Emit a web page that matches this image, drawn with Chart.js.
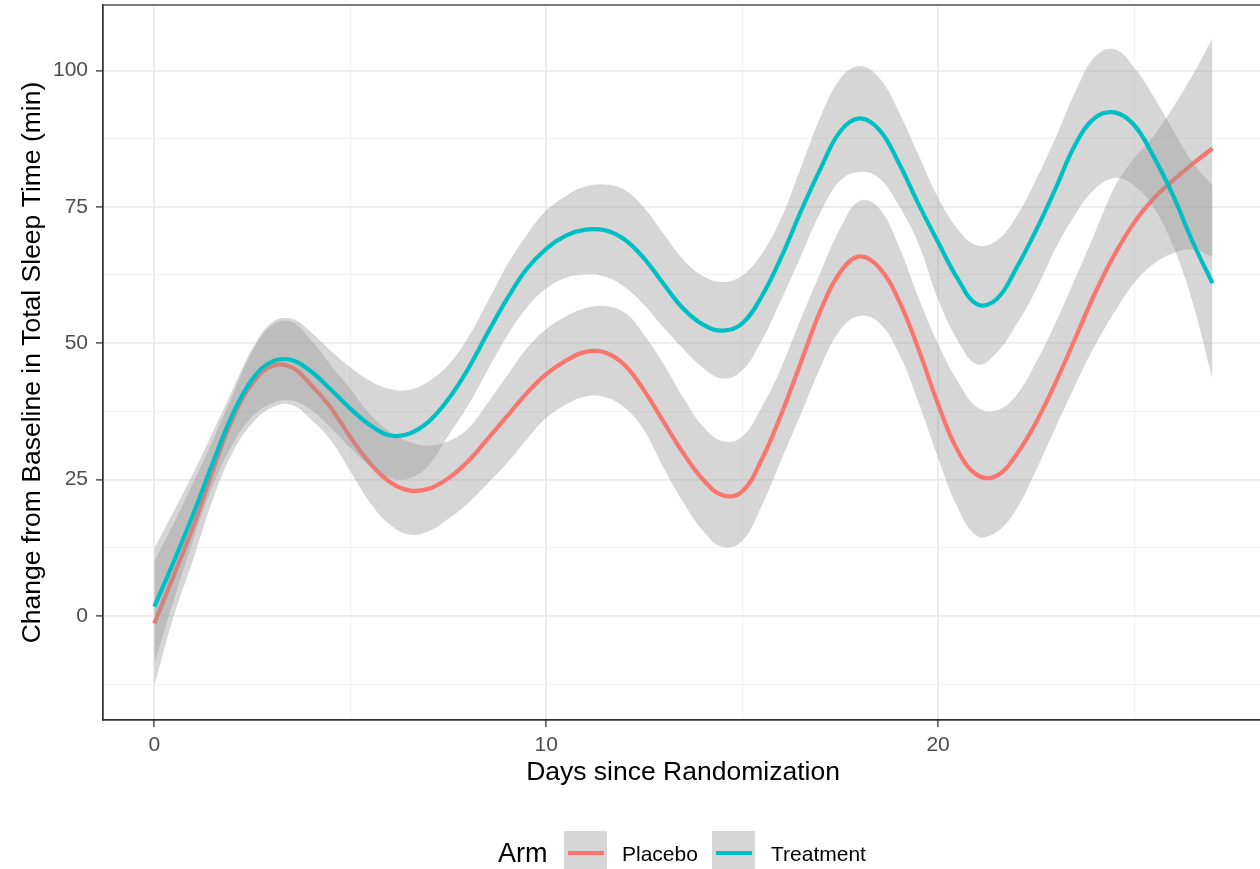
<!DOCTYPE html>
<html>
<head>
<meta charset="utf-8">
<script src="https://cdn.jsdelivr.net/npm/chart.js@4"></script>
<style>
    html, body { margin: 0; padding: 0; background: #fff; overflow: hidden; }
    #wrap { position: relative; width: 1260px; height: 869px; overflow: hidden; }
    canvas { position: absolute; left: 0; top: 0; }
    .lg { position: absolute; font-family: "Liberation Sans", Arial, sans-serif; color: #000; white-space: nowrap; }
    .key { position: absolute; width: 43px; height: 43px; background: #d6d6d6; }
    .key span { position: absolute; left: 4px; top: 20px; width: 36px; height: 4px; }
</style>
</head>
<body>
<div id="wrap">
    <canvas id="chart" width="1266" height="869"></canvas>
    <div class="lg" style="left:498px; top:838px; font-size:27px;">Arm</div>
    <div class="key" style="left:564px; top:831px;"><span style="background:#F8766D"></span></div>
    <div class="lg" style="left:622px; top:842px; font-size:21px;">Placebo</div>
    <div class="key" style="left:712px; top:831px;"><span style="background:#00BFC4"></span></div>
    <div class="lg" style="left:771px; top:842px; font-size:21px;">Treatment</div>
</div>
<script>
// Smoothed change from baseline (loess fit + 95% band)
const days = [0, 0.5, 1, 1.5, 2, 2.5, 3, 3.5, 4, 4.5, 5, 5.5, 6, 6.5, 7, 7.5, 8, 8.5, 9, 9.5,
    10, 10.5, 11, 11.5, 12, 12.5, 13, 13.5, 14, 14.5, 15, 15.5, 16, 16.5, 17, 17.5, 18, 18.5, 19, 19.5,
    20, 20.5, 21, 21.5, 22, 22.5, 23, 23.5, 24, 24.5, 25, 25.5, 26, 26.5, 27];

const placeboMean = [-1.4, 7.5, 16.5, 26.8, 36.2, 42.6, 45.8, 45.6, 42.3, 38.2, 32.8, 28.0, 24.6, 23.0, 23.3, 25.2, 28.3, 32.4, 36.6, 40.8,
    44.3, 46.8, 48.4, 48.3, 46.0, 41.3, 35.5, 29.8, 25.0, 22.1, 22.8, 28.7, 37.0, 46.5, 56.0, 63.0, 65.9, 63.8, 57.8, 48.9,
    38.8, 30.3, 25.8, 25.7, 29.6, 35.5, 42.8, 50.9, 59.1, 66.2, 72.1, 76.5, 79.9, 82.9, 85.7];
const placeboUpper = [10.0, 17.0, 24.5, 32.3, 40.5, 48.5, 53.3, 53.9, 50.5, 46.0, 41.6, 37.0, 33.8, 31.9, 31.2, 32.0, 34.3, 39.0, 44.0, 49.0,
    52.6, 54.9, 56.4, 56.8, 55.6, 51.5, 46.1, 40.0, 34.7, 32.0, 32.9, 38.3, 45.6, 54.5, 63.0, 71.0, 76.1, 74.7, 67.7, 58.3,
    49.8, 43.0, 38.2, 37.7, 40.5, 46.5, 53.8, 61.9, 70.2, 78.6, 83.9, 88.0, 93.3, 99.2, 105.9];
const placeboLower = [-12.8, 0.0, 10.5, 21.5, 30.0, 35.3, 38.2, 38.7, 36.0, 32.2, 26.5, 20.8, 16.8, 14.9, 15.5, 17.8, 20.6, 24.2, 28.0, 32.3,
    36.3, 38.7, 40.2, 40.1, 38.2, 34.0, 27.0, 20.8, 15.6, 12.6, 13.7, 20.2, 28.6, 37.0, 45.6, 52.4, 55.0, 53.7, 48.1, 39.1,
    28.9, 19.8, 14.6, 15.4, 19.6, 26.7, 34.6, 42.3, 49.5, 55.7, 61.0, 64.5, 66.5, 67.2, 65.8];

const treatmentMean = [1.7, 10.0, 18.8, 28.2, 37.0, 43.4, 46.6, 46.9, 44.8, 41.5, 38.0, 35.0, 33.1, 33.4, 35.6, 39.7, 45.2, 51.8, 58.1, 63.6,
    67.3, 69.7, 70.8, 70.7, 69.0, 65.5, 60.8, 56.3, 53.4, 52.3, 53.6, 58.6, 65.8, 74.2, 82.0, 88.8, 91.2, 89.1, 83.0, 75.5,
    68.5, 61.8, 57.1, 58.1, 63.8, 70.7, 78.4, 86.4, 91.3, 92.3, 90.0, 84.2, 77.0, 68.5, 61.0];
const treatmentUpper = [12.4, 19.2, 26.3, 33.8, 41.5, 49.0, 53.8, 54.5, 52.0, 48.6, 45.6, 43.1, 41.6, 41.4, 43.0, 46.0, 51.0, 57.5, 64.3, 69.8,
    74.3, 77.0, 78.7, 79.1, 78.1, 74.8, 70.0, 65.3, 62.3, 61.2, 62.4, 66.4, 73.0, 82.2, 91.5, 98.5, 100.8, 98.6, 92.4, 84.5,
    76.7, 70.9, 67.9, 68.8, 73.2, 80.0, 87.7, 96.1, 102.5, 103.9, 100.6, 95.2, 89.0, 83.1, 78.9];
const treatmentLower = [-8.8, 3.0, 14.0, 24.0, 31.5, 36.5, 39.0, 39.5, 37.8, 34.5, 30.8, 27.5, 25.3, 25.2, 27.6, 33.0, 38.5, 45.0, 51.3, 56.5,
    60.0, 62.0, 62.6, 62.2, 60.3, 57.0, 52.8, 48.9, 45.5, 43.5, 45.0, 50.5, 58.0, 66.0, 74.0, 79.8, 81.4, 80.2, 75.2, 68.2,
    58.0, 50.5, 46.1, 48.3, 53.4, 59.8, 67.4, 73.6, 78.3, 80.3, 78.9, 74.9, 67.7, 57.3, 43.4];

// Axis ticks: majors get labels, minors only gridlines
const xTickValues = [0, 5, 10, 15, 20, 25];
const xTickLabels = ['0', '', '10', '', '20', ''];
const yTickValues = [-12.5, 0, 12.5, 25, 37.5, 50, 62.5, 75, 87.5, 100];
const yTickLabels = ['', '0', '', '25', '', '50', '', '75', '', '100'];

const PLACEBO_COLOR = '#F8766D';
const TREATMENT_COLOR = '#00BFC4';
const BAND_FILL = 'rgba(153, 153, 153, 0.4)';
const FONT = '"Liberation Sans", Arial, sans-serif';

function toPoints(values) {
    return values.map((v, i) => ({ x: days[i], y: v }));
}

function bandEdge(values, fill, order) {
    return {
        data: toPoints(values),
        borderWidth: 0,
        borderColor: 'rgba(0,0,0,0)',
        backgroundColor: BAND_FILL,
        pointRadius: 0,
        fill: fill,
        tension: 0.4,
        order: order
    };
}

function meanLine(values, color, order) {
    return {
        data: toPoints(values),
        borderColor: color,
        borderWidth: 4.2,
        pointRadius: 0,
        fill: false,
        tension: 0.4,
        order: order
    };
}

// Panel border drawn on top, like ggplot's theme_bw
const panelBorder = {
    id: 'panelBorder',
    afterDatasetsDraw(chart) {
        const a = chart.chartArea;
        const ctx = chart.ctx;
        ctx.save();
        ctx.strokeStyle = '#333333';
        ctx.lineWidth = 1.3;
        ctx.strokeRect(a.left, a.top, a.right - a.left, a.bottom - a.top);
        ctx.restore();
    }
};

const isMajorX = v => v % 10 === 0;
const isMajorY = v => v % 25 === 0;

new Chart(document.getElementById('chart'), {
    type: 'line',
    data: {
        datasets: [
            bandEdge(placeboUpper, '+1', 6),
            bandEdge(placeboLower, false, 5),
            meanLine(placeboMean, PLACEBO_COLOR, 4),
            bandEdge(treatmentUpper, '+1', 3),
            bandEdge(treatmentLower, false, 2),
            meanLine(treatmentMean, TREATMENT_COLOR, 1)
        ]
    },
    options: {
        responsive: false,
        animation: false,
        devicePixelRatio: 1,
        layout: { padding: { left: 0, top: 5, right: 3, bottom: 0 } },
        plugins: {
            legend: { display: false },
            tooltip: { enabled: false }
        },
        scales: {
            x: {
                type: 'linear',
                min: -1.31,
                max: 28.29,
                afterFit: scale => {
                    scale.height = 149;
                    scale.paddingLeft = 0;
                    scale.paddingRight = 0;
                },
                afterBuildTicks: scale => {
                    scale.ticks = xTickValues.map(v => ({ value: v }));
                },
                grid: {
                    color: ctx => isMajorX(ctx.tick.value) ? '#ebebeb' : '#f2f2f2',
                    lineWidth: ctx => isMajorX(ctx.tick.value) ? 1.8 : 1,
                    tickColor: ctx => isMajorX(ctx.tick.value) ? '#333333' : 'rgba(0,0,0,0)',
                    tickLength: 7,
                    tickWidth: 1.3
                },
                border: { display: true, color: '#333333', width: 1.3 },
                ticks: {
                    autoSkip: false,
                    maxRotation: 0,
                    padding: 6,
                    color: '#4d4d4d',
                    font: { family: FONT, size: 21 },
                    callback: (value, i) => xTickLabels[i]
                },
                title: {
                    display: true,
                    text: 'Days since Randomization',
                    color: '#000',
                    font: { family: FONT, size: 26.5 },
                    padding: { top: 0, bottom: 80 }
                }
            },
            y: {
                type: 'linear',
                min: -19.1,
                max: 112.0,
                afterFit: scale => {
                    scale.width = 103;
                    scale.paddingTop = 0;
                    scale.paddingBottom = 0;
                },
                afterBuildTicks: scale => {
                    scale.ticks = yTickValues.map(v => ({ value: v }));
                },
                grid: {
                    color: ctx => isMajorY(ctx.tick.value) ? '#ebebeb' : '#f2f2f2',
                    lineWidth: ctx => isMajorY(ctx.tick.value) ? 1.8 : 1,
                    tickColor: ctx => isMajorY(ctx.tick.value) ? '#333333' : 'rgba(0,0,0,0)',
                    tickLength: 7,
                    tickWidth: 1.3
                },
                border: { display: true, color: '#333333', width: 1.3 },
                ticks: {
                    autoSkip: false,
                    padding: 8,
                    color: '#4d4d4d',
                    font: { family: FONT, size: 21 },
                    callback: (value, i) => yTickLabels[i]
                },
                title: {
                    display: true,
                    text: 'Change from Baseline in Total Sleep Time (min)',
                    color: '#000',
                    font: { family: FONT, size: 26.5 },
                    padding: { top: 17, bottom: 0 }
                }
            }
        }
    },
    plugins: [panelBorder]
});
</script>
</body>
</html>
